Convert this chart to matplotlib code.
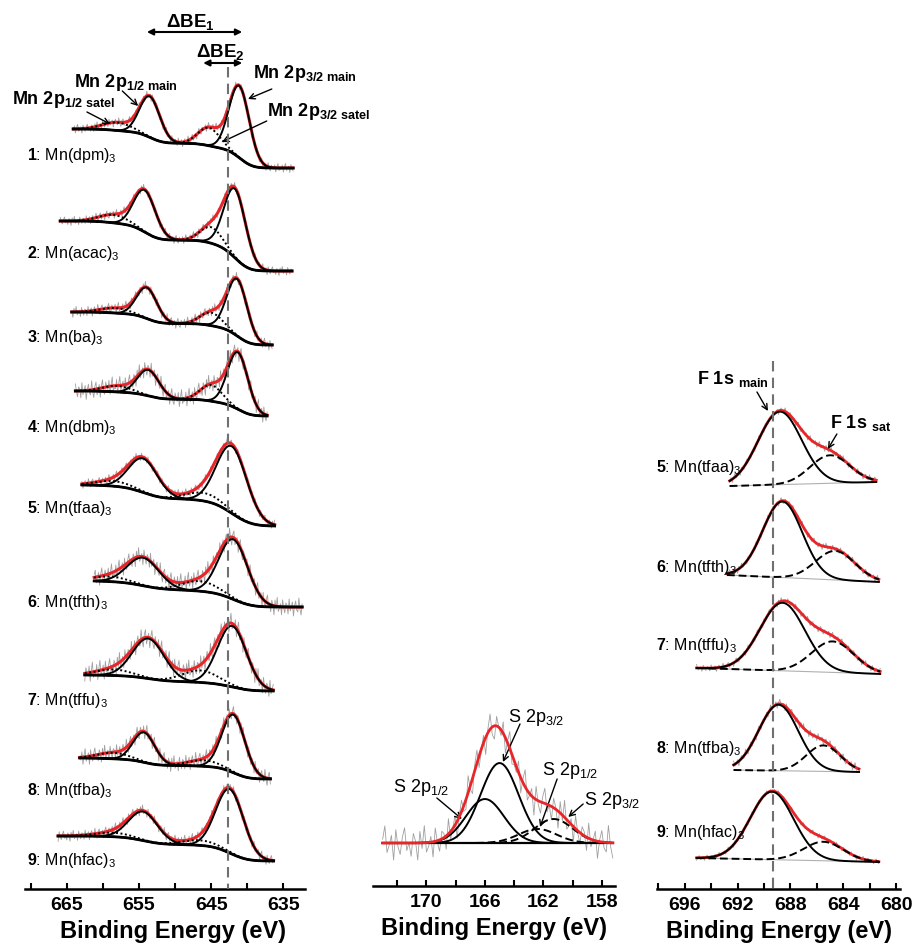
import numpy as np
import matplotlib
matplotlib.use("Agg")
import matplotlib.pyplot as plt

plt.rcParams['font.family'] = ['Liberation Sans', 'DejaVu Sans']
plt.rcParams['mathtext.fontset'] = 'custom'
plt.rcParams['mathtext.rm'] = 'Liberation Sans'
plt.rcParams['mathtext.bf'] = 'Liberation Sans:bold'
plt.rcParams['mathtext.it'] = 'Liberation Sans:italic'
plt.rcParams['mathtext.default'] = 'regular'

W, H = 921, 945
RED = '#e8262a'
GREY = '#a0a0a0'

# hand-read residual pattern for the raw (grey) traces, units of the noise amplitude
noise_pattern = [0.3, -0.6, 0.8, -0.2, -0.9, 0.5, 0.1, -0.4, 0.9, -0.7, 0.2, 0.6,
                 -0.3, -0.8, 0.4, 0.0, 0.7, -0.5, -0.1, 0.9, -0.6, 0.3, -0.9, 0.5,
                 0.2, -0.3, 0.8, -0.7, 0.1, 0.6, -0.4, -0.2, 0.7, -0.8, 0.4, 0.0,
                 -0.5, 0.9, -0.1, -0.6, 0.3, 0.5, -0.9, 0.2, 0.8, -0.3, -0.7, 0.6,
                 0.1, -0.4, 0.9, -0.2, -0.8, 0.4, 0.7, -0.5, 0.0, 0.3, -0.6, 0.8,
                 -0.1, -0.9, 0.5, 0.2]

# ---- Mn 2p (left panel); heights in px above background, y in px from top
mn_ids = [1, 2, 3, 4, 5, 6, 7, 8, 9]
mn_names = ['dpm', 'acac', 'ba', 'dbm', 'tfaa', 'tfth', 'tffu', 'tfba', 'hfac']
mn_start = [664.1, 665.9, 664.3, 663.8, 662.9, 661.2, 662.5, 663.2, 666.2]
mn_end = [633.6, 633.8, 636.4, 637.1, 636.1, 632.4, 636.4, 636.8, 636.2]
mn_bg_hi = [130, 222, 313, 392, 486, 582, 676, 759, 837]
mn_bg_lo = [169, 272, 346, 417, 527, 608, 692, 780, 862]
mn32_pos = [641.1, 641.7, 641.4, 641.3, 642.1, 641.9, 642.1, 641.9, 642.4]
mn32_h = [72, 69, 57, 57, 67, 60, 61, 58, 64]
mn32_w = [1.4, 1.5, 1.4, 1.4, 2.1, 2.0, 2.0, 1.6, 1.9]
mn12_pos = [653.5, 654.2, 653.9, 653.7, 654.4, 654.4, 653.7, 654.3, 654.4]
mn12_h = [41, 42, 31, 26, 34, 28, 40, 30, 29]
mn12_w = [1.4, 1.5, 1.4, 1.5, 2.0, 2.2, 2.2, 1.5, 2.0]
sat32_pos = [645.3, 645.0, 645.0, 645.0, 646.0, 646.5, 646.5, 646.0, 646.5]
sat32_h = [18, 16, 13, 16, 8, 10, 12, 6, 5]
sat32_w = [1.5, 1.5, 1.5, 1.5, 2.5, 2.5, 2.5, 2.2, 2.5]
sat12_pos = [658.0, 658.5, 658.3, 658.0, 658.5, 659.0, 658.5, 658.5, 658.5]
sat12_h = [8, 8, 5, 6, 5, 5, 6, 6, 4]
sat12_w = [2.0, 2.0, 2.0, 2.0, 2.5, 2.5, 2.5, 2.2, 2.5]
mn_noise = [5, 5, 6, 10, 5, 10, 11, 9, 6]
mn_label_y = [160, 258, 342, 432, 513, 607, 705, 795, 865]
mn_ref_be = 642.6

# ---- S 2p (middle panel)
s_start, s_end = 173.0, 157.2
s_bg = 844
s_pos = [166.0, 165.0, 162.4, 161.3]
s_h = [44, 80, 14, 24]
s_w = [1.3, 1.3, 1.3, 1.3]
s_dashed = [False, False, True, True]
s_noise = 19

# ---- F 1s (right panel)
f_ids = [5, 6, 7, 8, 9]
f_names = ['tfaa', 'tfth', 'tffu', 'tfba', 'hfac']
f_start = [692.6, 692.8, 695.1, 692.3, 695.1]
f_end = [681.45, 681.2, 681.1, 682.7, 681.2]
f_bg_hi = [487, 576, 669, 771, 859]
f_bg_lo = [483, 583, 675, 773, 863]
f_main_pos = [688.8, 688.6, 688.6, 688.9, 689.4]
f_main_h = [73, 76, 68, 66, 68]
f_main_w = [1.65, 1.5, 1.7, 1.5, 1.64]
f_sat_pos = [685.0, 684.6, 684.8, 685.5, 685.5]
f_sat_h = [28, 29, 31, 26, 19]
f_sat_w = [1.5, 1.5, 1.6, 1.3, 1.5]
f_noise = [4, 4, 4, 5, 3]
f_label_y = [472, 572, 650, 753, 837]
f_ref_be = 689.3


def gauss(e, c, h, s):
    return h * np.exp(-(e - c) ** 2 / (2 * s ** 2))


def noise(n, amp, shift):
    idx = (np.arange(n) + shift) % len(noise_pattern)
    return amp * np.array(noise_pattern)[idx]


def shirley(total, y_hi, y_lo):
    cum = np.cumsum(total[::-1])[::-1]
    return y_lo - (y_lo - y_hi) * cum / cum[0]


def px_axes(fig, x0, x1, ybot):
    return fig.add_axes([x0 / W, 1 - ybot / H, (x1 - x0) / W, ybot / H])


def style_axis(ax, major, minor, label_x=0.5):
    for s in ['top', 'left', 'right']:
        ax.spines[s].set_visible(False)
    ax.spines['bottom'].set_linewidth(1.8)
    ax.set_yticks([])
    ax.set_xticks(major)
    ax.set_xticks(minor, minor=True)
    ax.set_xticklabels([str(v) for v in major], fontweight='bold')
    ax.tick_params(axis='x', which='both', direction='in', length=4, width=1.5,
                   labelsize=14, pad=5)
    ax.set_xlabel('Binding Energy (eV)', fontsize=17, fontweight='bold')
    ax.xaxis.set_label_coords(label_x, -30 / 890, transform=ax.transAxes)
    ax.xaxis.label.set_va('top')
    ax.patch.set_alpha(0)


def arrow(ax, xy, xytext, style='->', lw=1.0, ms=10):
    ax.annotate('', xy=xy, xytext=xytext,
                arrowprops=dict(arrowstyle=style, lw=lw, color='black',
                                shrinkA=0, shrinkB=0, mutation_scale=ms))


fig = plt.figure(figsize=(W / 100, H / 100), dpi=100)

# ---------------- left: Mn 2p
ax = px_axes(fig, 25, 305, 890)
ax.set_xlim(670.78, 632.0)
ax.set_ylim(890, 0)
for i in range(len(mn_ids)):
    e = np.arange(mn_start[i], mn_end[i], -0.15)
    p32 = gauss(e, mn32_pos[i], mn32_h[i], mn32_w[i])
    p12 = gauss(e, mn12_pos[i], mn12_h[i], mn12_w[i])
    q32 = gauss(e, sat32_pos[i], sat32_h[i], sat32_w[i])
    q12 = gauss(e, sat12_pos[i], sat12_h[i], sat12_w[i])
    tot = p32 + p12 + q32 + q12
    bg = shirley(tot, mn_bg_hi[i], mn_bg_lo[i])
    ax.plot(e, bg - tot + noise(len(e), mn_noise[i], 9 * i), color=GREY, lw=0.6, zorder=1)
    ax.plot(e, bg - tot, color=RED, lw=2.2, zorder=2)
    ax.plot(e, bg - q32, color='black', lw=1.4, ls=(0, (1, 1.3)), zorder=3)
    ax.plot(e, bg - q12, color='black', lw=1.4, ls=(0, (1, 1.3)), zorder=3)
    ax.plot(e, bg - p32, color='black', lw=1.4, zorder=3)
    ax.plot(e, bg - p12, color='black', lw=1.4, zorder=3)
    ax.plot(e, bg, color='black', lw=2.0, zorder=3)
    ax.text(670.5, mn_label_y[i], r'$\mathbf{%d}$: Mn(%s)$_3$' % (mn_ids[i], mn_names[i]),
            fontsize=11.5, va='baseline', ha='left')
ax.vlines(mn_ref_be, 68, 890, color='#707070', lw=1.5, linestyles=(0, (5, 3)), zorder=5)

ax.text(647.9, 27, r'ΔBE$_1$', fontsize=13.5, fontweight='bold', ha='center', va='baseline')
arrow(ax, (640.7, 33), (653.9, 33), '<|-|>', lw=1.5, ms=9)
ax.text(643.8, 57, r'ΔBE$_2$', fontsize=13.5, fontweight='bold', ha='center', va='baseline')
arrow(ax, (640.7, 64), (646.1, 64), '<|-|>', lw=1.5, ms=9)

ax.text(664.0, 87, r'Mn 2p$_{1/2\ main}$', fontsize=13, fontweight='bold', va='baseline')
arrow(ax, (655.1, 107), (657.3, 92))
ax.text(672.6, 104, r'Mn 2p$_{1/2\ satel}$', fontsize=13, fontweight='bold', va='baseline')
arrow(ax, (659.0, 125), (662.2, 113))
ax.text(639.2, 78, r'Mn 2p$_{3/2\ main}$', fontsize=13, fontweight='bold', va='baseline')
arrow(ax, (639.9, 100), (636.6, 90))
ax.text(637.3, 116, r'Mn 2p$_{3/2\ satel}$', fontsize=13, fontweight='bold', va='baseline')
arrow(ax, (643.5, 143), (637.3, 122))
style_axis(ax, [665, 655, 645, 635], [670, 660, 650, 640], label_x=0.53)

# ---------------- middle: S 2p
ax = px_axes(fig, 373, 615, 887)
ax.set_xlim(173.66, 157.1)
ax.set_ylim(887, 0)
e = np.arange(s_start, s_end, -0.15)
comps = [gauss(e, s_pos[k], s_h[k], s_w[k]) for k in range(len(s_pos))]
tot = sum(comps)
ax.plot(e, s_bg - tot + noise(len(e), s_noise, 3), color=GREY, lw=0.6, zorder=1)
ax.plot(e, np.full_like(e, s_bg), color='black', lw=1.6, zorder=3)
for k in range(len(comps)):
    ax.plot(e, s_bg - comps[k], color='black', lw=1.4,
            ls=(0, (4, 2)) if s_dashed[k] else '-', zorder=3)
ax.plot(e, s_bg - tot, color=RED, lw=2.0, zorder=4)

ax.text(164.42, 722.5, r'S 2p$_{3/2}$', fontsize=13, va='baseline')
arrow(ax, (164.77, 763), (163.6, 725))
ax.text(172.31, 792.5, r'S 2p$_{1/2}$', fontsize=13, va='baseline')
arrow(ax, (167.58, 820), (169.29, 799))
ax.text(162.09, 775.5, r'S 2p$_{1/2}$', fontsize=13, va='baseline')
arrow(ax, (162.23, 828), (161.06, 780))
ax.text(159.21, 805.5, r'S 2p$_{3/2}$', fontsize=13, va='baseline')
arrow(ax, (160.3, 818), (159.28, 805))
style_axis(ax, [170, 166, 162, 158], [172, 168, 164, 160])

# ---------------- right: F 1s
ax = px_axes(fig, 657, 900, 890)
ax.set_xlim(698.1, 679.7)
ax.set_ylim(890, 0)
for i in range(len(f_ids)):
    e = np.arange(f_start[i], f_end[i], -0.1)
    bg = np.interp(e, [f_end[i], f_start[i]], [f_bg_lo[i], f_bg_hi[i]])
    pm = gauss(e, f_main_pos[i], f_main_h[i], f_main_w[i])
    ps = gauss(e, f_sat_pos[i], f_sat_h[i], f_sat_w[i])
    tot = pm + ps
    ax.plot(e, bg - tot + noise(len(e), f_noise[i], 11 * i), color=GREY, lw=0.6, zorder=1)
    ax.plot(e, bg, color='#b0b0b0', lw=0.8, zorder=2)
    ax.plot(e, bg - tot, color=RED, lw=2.0, zorder=2)
    ax.plot(e, bg - ps, color='black', lw=1.4, ls=(0, (4, 2)), zorder=3)
    ax.plot(e, bg - pm, color='black', lw=1.4, zorder=3)
    ax.text(698.16, f_label_y[i], r'$\mathbf{%d}$: Mn(%s)$_3$' % (f_ids[i], f_names[i]),
            fontsize=11.5, va='baseline', ha='left')
ax.vlines(f_ref_be, 362, 890, color='#707070', lw=1.5, linestyles=(0, (5, 3)), zorder=5)
ax.text(695.06, 384, r'F 1s $_{main}$', fontsize=13, fontweight='bold', va='baseline')
arrow(ax, (689.7, 412), (690.53, 393))
ax.text(685.0, 428, r'F 1s $_{sat}$', fontsize=13, fontweight='bold', va='baseline')
arrow(ax, (685.16, 450), (684.48, 435))
style_axis(ax, [696, 692, 688, 684, 680], [698, 694, 690, 686, 682])

fig.savefig('out.png', dpi=100)
